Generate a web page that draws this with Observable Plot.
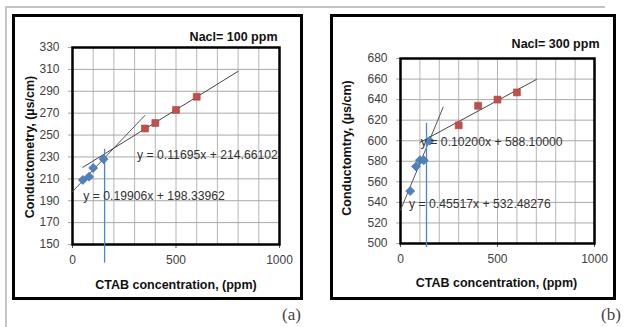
<!DOCTYPE html>
<html><head><meta charset="utf-8">
<script src="https://cdn.jsdelivr.net/npm/d3@7"></script>
<script src="https://cdn.jsdelivr.net/npm/@observablehq/plot@0.6"></script>
<style>
html,body{margin:0;padding:0;background:#fff;}
body{width:626px;height:327px;position:relative;overflow:hidden;}
.panel{position:absolute;top:0;width:313px;height:327px;}
.box{position:absolute;border:3px solid #000;box-sizing:border-box;}
.tag{position:absolute;font-family:"Liberation Serif","DejaVu Serif",serif;font-size:17px;color:#444;}
.hl{position:absolute;background:#c4c4c4;}
svg{overflow:visible;}
</style></head>
<body>
<div class="hl" style="left:5px;top:6px;width:600px;height:2px"></div>
<div class="hl" style="left:5px;top:6px;width:2px;height:321px"></div>
<div class="panel" id="pa" style="left:0"></div>
<div class="panel" id="pb" style="left:313px"></div>
<div class="box" style="left:12px;top:14px;width:291px;height:286px"></div>
<div class="box" style="left:330px;top:14px;width:286px;height:286px"></div>
<div class="tag" style="left:282px;top:305px">(a)</div>
<div class="tag" style="left:601px;top:305px">(b)</div>
<script>
// ---------- data ----------
const xTitle = "CTAB concentration, (ppm)";
const yTitleA = "Conductometry, (µs/cm)";
const yTitleB = "Conductomtry, (µs/cm)";
const noteA = "Nacl= 100 ppm";
const noteB = "Nacl= 300 ppm";
const xTicks = [0, 500, 1000];
const xGrid = [0, 100, 200, 300, 400, 500, 600, 700, 800, 900, 1000];
const yTicksA = [150, 170, 190, 210, 230, 250, 270, 290, 310, 330];
const yTicksB = [500, 520, 540, 560, 580, 600, 620, 640, 660, 680];

// panel (a)  NaCl = 100 ppm
const ctabA1 = [50, 80, 100, 150];
const condA1 = [209, 212, 220, 228];
const ctabA2 = [350, 400, 500, 600];
const condA2 = [256, 261, 273, 285];
const fitA1 = {slope: 0.19906, intercept: 198.33962, from: 0, to: 350};
const fitA2 = {slope: 0.11695, intercept: 214.66102, from: 50, to: 800};
const cmcA = {x: 155, y1: 133, y2: 237};

// panel (b)  NaCl = 300 ppm
const ctabB1 = [50, 80, 100, 120, 150];
const condB1 = [551, 575, 581, 581, 600];
const ctabB2 = [300, 400, 500, 600];
const condB2 = [615, 634, 640, 647];
const fitB1 = {slope: 0.45517, intercept: 532.48276, from: 0, to: 220};
const fitB2 = {slope: 0.10200, intercept: 588.10000, from: 100, to: 700};
const cmcB = {x: 134, y1: 496, y2: 617};

const eq = f => `y = ${f.slope.toFixed(5)}x + ${f.intercept.toFixed(5)}`;
const seg = f => [f.from, f.to].map(x => ({x, y: f.slope * x + f.intercept}));
const pts = (xs, ys) => xs.map((x, i) => ({x, y: ys[i]}));

const FONT = '"Liberation Sans",Arial,sans-serif';
const BLUE = "#4f81bd", RED = "#c0504d";

function panel(o) {
  return Plot.plot({
    width: 313, height: 300,
    marginLeft: o.ml, marginRight: o.mr, marginTop: o.mt, marginBottom: 300 - o.bottom,
    style: {fontFamily: FONT, fontSize: "12px", color: "#404040", background: "transparent", overflow: "visible"},
    x: {domain: [0, 1000]},
    y: {domain: o.yDomain},
    marks: [
      Plot.ruleX(xGrid, {stroke: "#b4b4b4", strokeWidth: 1}),
      Plot.ruleY(o.yTicks, {stroke: "#a8a8a8", strokeWidth: 1, x1: -20, x2: 1000}),
      Plot.axisX(xTicks, {tickSize: 4, tickPadding: 7, label: null, stroke: "#555", fill: "#404040", tickFormat: d => String(d)}),
      Plot.axisY(o.yTicks, {tickSize: 0, tickPadding: 13, label: null, fill: "#404040", tickFormat: d => String(d)}),
      Plot.frame({stroke: "#000", strokeWidth: 2.5}),
      Plot.line(seg(o.fit1), {x: "x", y: "y", stroke: "#555", strokeWidth: 1}),
      Plot.line(seg(o.fit2), {x: "x", y: "y", stroke: "#444", strokeWidth: 1}),
      Plot.ruleX([o.cmc], {x: "x", y1: "y1", y2: "y2", stroke: "#4a86c8", strokeWidth: 1.3}),
      Plot.dot(pts(o.x1, o.y1), {x: "x", y: "y", symbol: "square", rotate: 45, r: 3.6, fill: BLUE, stroke: "#3d6fa8", strokeWidth: 0.6}),
      Plot.dot(pts(o.x2, o.y2), {x: "x", y: "y", symbol: "square", r: 3.9, fill: RED, stroke: "#a9403d", strokeWidth: 0.6}),
      Plot.text([eq(o.fit2)], {x: o.e2[0], y: o.e2[1], textAnchor: "start", fill: "#333", fontSize: 12.2, clip: "frame"}),
      Plot.text([eq(o.fit1)], {x: o.e1[0], y: o.e1[1], textAnchor: "start", fill: "#333", fontSize: 12.2}),
      Plot.text([o.note], {frameAnchor: "top-right", textAnchor: "end", dx: o.ndx, dy: o.ndy, fontWeight: "bold", fill: "#111", fontSize: 12.5}),
      Plot.text([xTitle], {frameAnchor: "bottom", textAnchor: "middle", dx: o.xdx, dy: o.xdy, fontWeight: "bold", fill: "#111", fontSize: 12.5}),
      Plot.text([o.yTitle], {frameAnchor: "left", textAnchor: "middle", rotate: -90, dx: o.ydx, dy: o.ydy, fontWeight: "bold", fill: "#111", fontSize: 12.5})
    ]
  });
}

document.getElementById("pa").append(panel({
  ml: 72, mr: 34, mt: 47, bottom: 244, yDomain: [150, 330], yTicks: yTicksA,
  x1: ctabA1, y1: condA1, x2: ctabA2, y2: condA2, fit1: fitA1, fit2: fitA2, cmc: cmcA,
  e2: [312, 232], e1: [52, 194], note: noteA, ndx: -2, ndy: -15, xdx: 0, xdy: 44, ydx: -43, ydy: 1, yTitle: yTitleA
}));
document.getElementById("pb").append(panel({
  ml: 87, mr: 32, mt: 58, bottom: 243, yDomain: [500, 680], yTicks: yTicksB,
  x1: ctabB1, y1: condB1, x2: ctabB2, y2: condB2, fit1: fitB1, fit2: fitB2, cmc: cmcB,
  e2: [105, 599], e1: [44, 538], note: noteB, ndx: 5, ndy: -19, xdx: -1, xdy: 43, ydx: -54, ydy: -3, yTitle: yTitleB
}));
</script>
</body></html>
